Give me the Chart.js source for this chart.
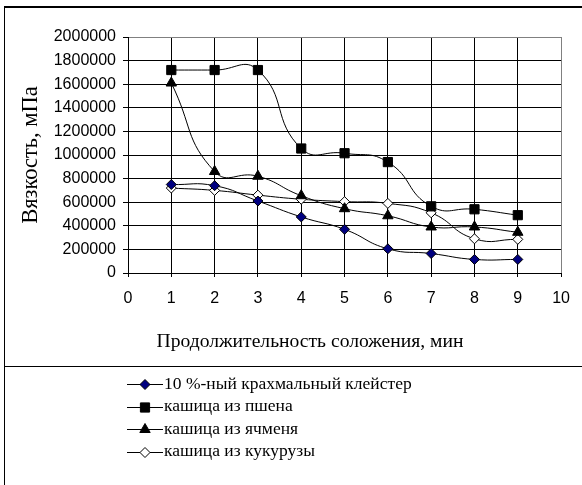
<!DOCTYPE html>
<html>
<head>
<meta charset="utf-8">
<script src="https://cdn.jsdelivr.net/npm/chart.js@4/dist/chart.umd.min.js"></script>
<style>
  html, body { margin: 0; padding: 0; background: #fff; }
  #wrap { width: 582px; height: 485px; }
</style>
</head>
<body>
<div id="wrap"><canvas id="c" width="582" height="485"></canvas></div>
<script>
// Время соложения, мин
const minutes = [1, 2, 3, 4, 5, 6, 7, 8, 9];

// Вязкость, мПа
const starchPaste = [750000, 740000, 610000, 475000, 370000, 205000, 165000, 115000, 115000];
const milletMash  = [1720000, 1720000, 1720000, 1055000, 1015000, 940000, 565000, 540000, 490000];
const barleyMash  = [1610000, 860000, 820000, 655000, 545000, 485000, 390000, 390000, 345000];
const cornMash    = [720000, 700000, 660000, 625000, 605000, 590000, 510000, 290000, 285000];

const seriesNames = [
  '10 %-ный крахмальный клейстер',
  'кашица из пшена',
  'кашица из ячменя',
  'кашица из кукурузы'
];

const xTicks = [0, 1, 2, 3, 4, 5, 6, 7, 8, 9, 10];
const yTicks = [0, 200000, 400000, 600000, 800000, 1000000, 1200000, 1400000, 1600000, 1800000, 2000000];

const yTitle = 'Вязкость, мПа';
const xTitle = 'Продолжительность соложения, мин';

function points(vals) {
  return minutes.map((m, i) => ({ x: m, y: vals[i] }));
}

function series(label, vals, style, radius, fill) {
  return {
    label: label,
    data: points(vals),
    borderColor: '#000',
    borderWidth: 1,
    tension: 0.5,
    pointStyle: style,
    pointRadius: radius,
    pointHoverRadius: radius,
    pointBackgroundColor: fill,
    pointBorderColor: '#000',
    pointBorderWidth: 1
  };
}

const SERIF = '"Liberation Serif", "Times New Roman", serif';
const SANS = '"Liberation Sans", Arial, sans-serif';

// white page, outer frame and the divider above the legend
const framePlugin = {
  id: 'frame',
  beforeDraw(chart) {
    const ctx = chart.ctx;
    ctx.save();
    ctx.fillStyle = '#fff';
    ctx.fillRect(0, 0, chart.width, chart.height);
    ctx.restore();
  },
  afterDraw(chart) {
    const ctx = chart.ctx;
    ctx.save();
    ctx.strokeStyle = '#000';
    ctx.lineWidth = 2;
    ctx.beginPath();
    ctx.moveTo(4, 7);
    ctx.lineTo(582, 7);
    ctx.stroke();
    ctx.lineWidth = 1;
    ctx.beginPath();
    ctx.moveTo(4.5, 7);
    ctx.lineTo(4.5, 485);
    ctx.moveTo(4, 366.5);
    ctx.lineTo(582, 366.5);
    ctx.stroke();

    // axis titles
    ctx.fillStyle = '#000';
    ctx.textAlign = 'center';
    ctx.textBaseline = 'middle';
    ctx.font = '22.5px ' + SERIF;
    ctx.save();
    ctx.translate(31, 155);
    ctx.rotate(-Math.PI / 2);
    ctx.fillText(yTitle, 0, 0);
    ctx.restore();
    ctx.font = '19.6px ' + SERIF;
    ctx.fillText(xTitle, 310, 342);
    ctx.restore();
  }
};

// legend: short line with the series marker in the middle, then its name
const legendPlugin = {
  id: 'lineLegend',
  afterDraw(chart) {
    const ctx = chart.ctx;
    const rows = [384, 406.5, 429, 451.5];
    ctx.save();
    chart.data.datasets.forEach((ds, i) => {
      const y = rows[i];
      ctx.strokeStyle = '#000';
      ctx.lineWidth = 1;
      ctx.beginPath();
      ctx.moveTo(127, Math.round(y) + 0.5);
      ctx.lineTo(163, Math.round(y) + 0.5);
      ctx.stroke();
      ctx.fillStyle = ds.pointBackgroundColor;
      ctx.strokeStyle = ds.pointBorderColor;
      ctx.lineWidth = ds.pointBorderWidth;
      Chart.helpers.drawPoint(ctx, {
        pointStyle: ds.pointStyle,
        radius: ds.pointRadius,
        rotation: 0,
        borderWidth: ds.pointBorderWidth
      }, 145, Math.round(y) + 0.5);
      ctx.fillStyle = '#000';
      ctx.font = '17.5px ' + SERIF;
      ctx.textAlign = 'left';
      ctx.textBaseline = 'middle';
      ctx.fillText(ds.label, 164, y);
    });
    ctx.restore();
  }
};

new Chart(document.getElementById('c'), {
  type: 'line',
  data: {
    datasets: [
      series(seriesNames[0], starchPaste, 'rectRot', 5, '#000080'),
      series(seriesNames[1], milletMash, 'rect', 6.5, '#000'),
      series(seriesNames[2], barleyMash, 'triangle', 6, '#000'),
      series(seriesNames[3], cornMash, 'rectRot', 5, '#fff')
    ]
  },
  options: {
    responsive: false,
    animation: false,
    devicePixelRatio: 1,
    layout: { padding: { left: 0, top: 37, right: 19, bottom: 182 } },
    plugins: {
      legend: { display: false },
      tooltip: { enabled: false }
    },
    scales: {
      x: {
        type: 'linear',
        min: 0,
        max: 10,
        afterFit(scale) { scale.height = 30; },
        afterBuildTicks(scale) { scale.ticks = xTicks.map(v => ({ value: v })); },
        ticks: {
          color: '#000',
          font: { family: SANS, size: 16 },
          padding: 12,
          maxRotation: 0,
          autoSkip: false
        },
        grid: {
          color: c => (c.tick && c.tick.value === 10 ? '#808080' : '#000'),
          tickColor: '#000',
          lineWidth: 1,
          tickLength: 4
        },
        border: { color: '#000', width: 1 }
      },
      y: {
        type: 'linear',
        min: 0,
        max: 2000000,
        afterFit(scale) { scale.width = 128; },
        afterBuildTicks(scale) { scale.ticks = yTicks.map(v => ({ value: v })); },
        ticks: {
          color: '#000',
          font: { family: SANS, size: 16 },
          padding: 7,
          autoSkip: false,
          callback: v => String(v)
        },
        grid: {
          color: c => (c.tick && c.tick.value === 2000000 ? '#808080' : '#000'),
          tickColor: '#000',
          lineWidth: 1,
          tickLength: 5
        },
        border: { color: '#000', width: 1 }
      }
    }
  },
  plugins: [framePlugin, legendPlugin]
});
</script>
</body>
</html>
